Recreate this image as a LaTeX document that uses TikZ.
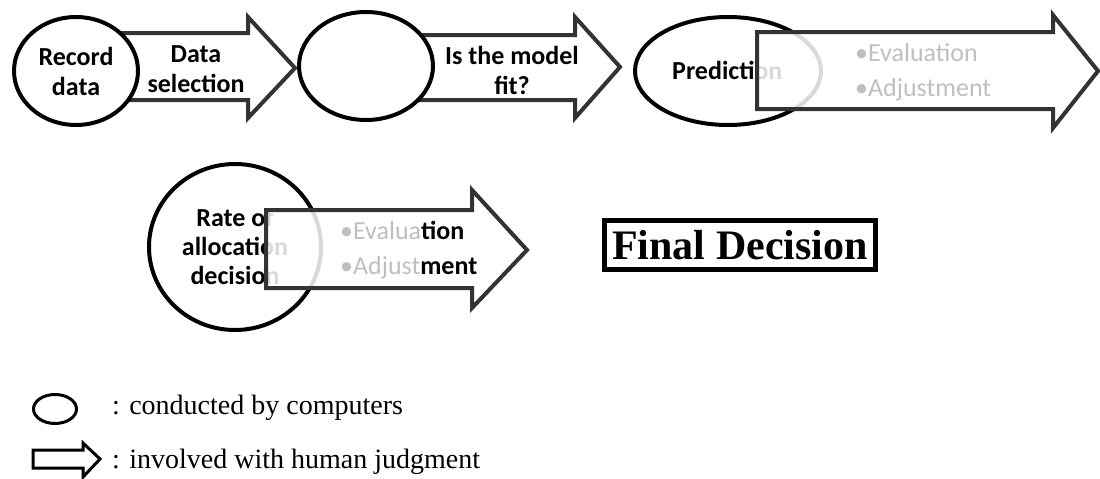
\documentclass[tikz,border=0pt]{standalone}
\usepackage{fontspec}
\setmainfont{Liberation Serif}
\newfontfamily\calibri{Carlito}
\usetikzlibrary{shapes.geometric}
\colorlet{step_line}{black}
\colorlet{arrow_line}{black!80}
\colorlet{faint_text}{black!25}
\tikzset{
    comp_step/.style={ellipse,draw=step_line,line width=4pt,fill=white,inner sep=0pt},
    human_arrow/.style={draw=arrow_line,line width=4pt,fill=white,line join=miter},
    human_arrow_over/.style={human_arrow,fill opacity=0.85},
    step_label/.style={font=\calibri\bfseries\fontsize{26}{30}\selectfont,align=center,inner sep=0pt},
    faint_label/.style={font=\calibri\fontsize{26}{35}\selectfont,align=left,text=faint_text,inner sep=0pt,anchor=west},
    legend_text/.style={font=\fontsize{28}{34}\selectfont,anchor=west,inner sep=0pt},
}

\begin{document}
\begin{tikzpicture}[x=1pt,y=-1pt]
  \useasboundingbox (0,0) rectangle (1100,479);
  % Top row: record -> select -> fit -> predict
  \draw[human_arrow] (110,33) -- (248,33) -- (248,17) -- (295,68) -- (248,118) -- (248,100) -- (110,100) -- cycle;
  \node[comp_step,minimum width=124pt,minimum height=108pt] (rec) at (76,71) {};
  \node[step_label] (rec_text) at (rec) {Record\\data};
  \node[step_label] (sel_text) at (196,69) {Data\\selection};
  \draw[human_arrow] (400,35) -- (575,35) -- (575,17) -- (620,67) -- (575,118) -- (575,100) -- (400,100) -- cycle;
  \node[comp_step,minimum width=134pt,minimum height=108pt] (fit) at (366,66) {};
  \node[step_label] (fit_text) at (512,70) {Is the model\\fit?};
  \node[comp_step,minimum width=186pt,minimum height=108pt] (pred) at (728,71) {};
  \node[step_label,anchor=west] (pred_text) at (672,70) {Prediction};
  \draw[human_arrow_over] (757,32) -- (1053,32) -- (1053,15) -- (1098,71) -- (1053,128) -- (1053,109) -- (757,109) -- cycle;
  \node[faint_label] (pred_eval) at (855,72) {•Evaluation\\•Adjustment};
  % Second row: rate of allocation
  \node[comp_step,minimum width=172pt,minimum height=166pt] (rate) at (235,247) {};
  \node[step_label,font=\calibri\bfseries\fontsize{26}{29}\selectfont] (rate_text) at (rate) {Rate of\\allocation\\decision};
  \draw[human_arrow_over] (266,210) -- (472,210) -- (472,190) -- (527,250) -- (472,308) -- (472,288) -- (266,288) -- cycle;
  \node[faint_label] (rate_eval) at (340,250) {•Evalua\textcolor{black}{\bfseries tion}\\•Adjust\textcolor{black}{\bfseries ment}};
  \node[draw,line width=5pt,minimum width=271pt,minimum height=49pt,inner sep=0pt,
        font=\bfseries\fontsize{42}{48}\selectfont] (final) at (740,245) {Final Decision};
  % Legend
  \node[comp_step,line width=3pt,minimum width=43pt,minimum height=29pt] (leg_step) at (55,409) {};
  \draw[human_arrow,draw=black,line width=3pt] (33,450) -- (83,450) -- (83,443) -- (100,459) -- (83,477) -- (83,468) -- (33,468) -- cycle;
  \node[legend_text] (leg_comp) at (112,408) {: conducted by computers};
  \node[legend_text] (leg_human) at (112,462) {: involved with human judgment};
\end{tikzpicture}
\end{document}
